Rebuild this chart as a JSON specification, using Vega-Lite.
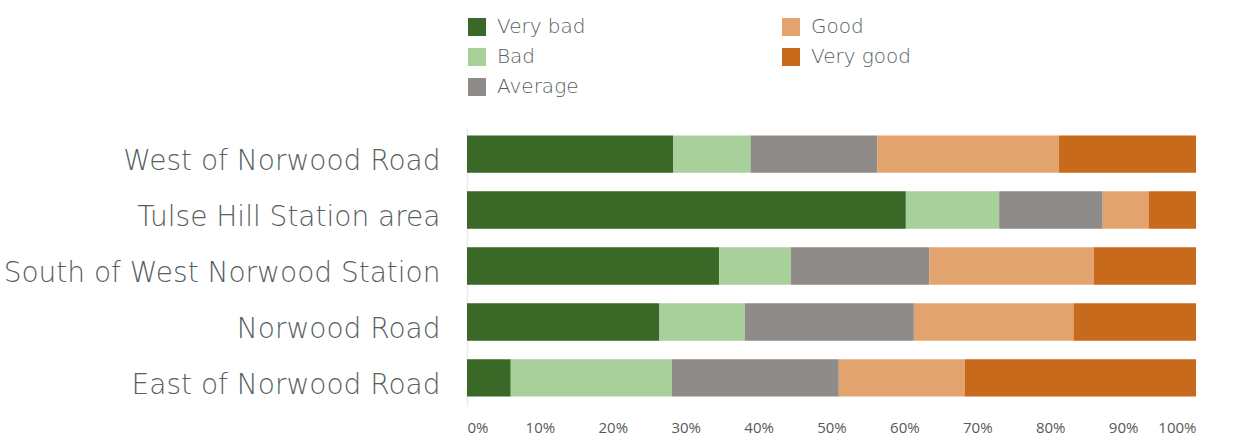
{
  "$schema": "https://vega.github.io/schema/vega-lite/v6.json",
  "autosize": "none",
  "width": 729,
  "height": 278,
  "padding": {"left": 467, "top": 127, "right": 37, "bottom": 30},
  "background": "white",
  "data": {
    "values": [
      {"area": "West of Norwood Road", "rating": "Very bad", "score": 1, "pct": 28.3},
      {"area": "West of Norwood Road", "rating": "Bad", "score": 2, "pct": 10.6},
      {"area": "West of Norwood Road", "rating": "Average", "score": 3, "pct": 17.4},
      {"area": "West of Norwood Road", "rating": "Good", "score": 4, "pct": 24.9},
      {"area": "West of Norwood Road", "rating": "Very good", "score": 5, "pct": 18.8},
      {"area": "Tulse Hill Station area", "rating": "Very bad", "score": 1, "pct": 60.2},
      {"area": "Tulse Hill Station area", "rating": "Bad", "score": 2, "pct": 12.8},
      {"area": "Tulse Hill Station area", "rating": "Average", "score": 3, "pct": 14.2},
      {"area": "Tulse Hill Station area", "rating": "Good", "score": 4, "pct": 6.3},
      {"area": "Tulse Hill Station area", "rating": "Very good", "score": 5, "pct": 6.5},
      {"area": "South of West Norwood Station", "rating": "Very bad", "score": 1, "pct": 34.6},
      {"area": "South of West Norwood Station", "rating": "Bad", "score": 2, "pct": 9.8},
      {"area": "South of West Norwood Station", "rating": "Average", "score": 3, "pct": 19.0},
      {"area": "South of West Norwood Station", "rating": "Good", "score": 4, "pct": 22.6},
      {"area": "South of West Norwood Station", "rating": "Very good", "score": 5, "pct": 14.0},
      {"area": "Norwood Road", "rating": "Very bad", "score": 1, "pct": 26.4},
      {"area": "Norwood Road", "rating": "Bad", "score": 2, "pct": 11.7},
      {"area": "Norwood Road", "rating": "Average", "score": 3, "pct": 23.2},
      {"area": "Norwood Road", "rating": "Good", "score": 4, "pct": 21.9},
      {"area": "Norwood Road", "rating": "Very good", "score": 5, "pct": 16.8},
      {"area": "East of Norwood Road", "rating": "Very bad", "score": 1, "pct": 6.0},
      {"area": "East of Norwood Road", "rating": "Bad", "score": 2, "pct": 22.1},
      {"area": "East of Norwood Road", "rating": "Average", "score": 3, "pct": 22.9},
      {"area": "East of Norwood Road", "rating": "Good", "score": 4, "pct": 17.3},
      {"area": "East of Norwood Road", "rating": "Very good", "score": 5, "pct": 31.7}
    ]
  },
  "mark": {"type": "bar"},
  "encoding": {
    "y": {
      "field": "area",
      "type": "nominal",
      "sort": ["West of Norwood Road", "Tulse Hill Station area", "South of West Norwood Station", "Norwood Road", "East of Norwood Road"],
      "scale": {"paddingInner": 0.33, "paddingOuter": 0.15},
      "axis": {
        "title": null,
        "ticks": false,
        "domain": true,
        "domainColor": "#ececec",
        "domainWidth": 1.5,
        "labelFont": "DejaVu Sans",
        "labelFontWeight": 200,
        "labelFontSize": 28,
        "labelColor": "#56615f",
        "labelPadding": 27,
        "labelOffset": 8,
        "labelLimit": 600
      }
    },
    "x": {
      "field": "pct",
      "type": "quantitative",
      "stack": "normalize",
      "scale": {"domain": [0, 1], "nice": false},
      "axis": {
        "title": null,
        "format": ".0%",
        "values": [0, 0.1, 0.2, 0.3, 0.4, 0.5, 0.6, 0.7, 0.8, 0.9, 1],
        "grid": false,
        "ticks": false,
        "domain": false,
        "labelFont": "Open Sans",
        "labelFontSize": 15,
        "labelColor": "#595959",
        "labelPadding": 15
      }
    },
    "order": {"field": "score", "type": "quantitative", "sort": "ascending"},
    "color": {
      "field": "rating",
      "type": "nominal",
      "sort": ["Very bad", "Bad", "Average", "Good", "Very good"],
      "scale": {
        "domain": ["Very bad", "Bad", "Average", "Good", "Very good"],
        "range": ["#3a6827", "#a8d09b", "#8f8b88", "#e3a36e", "#c86a1b"]
      },
      "legend": {
        "title": null,
        "orient": "none",
        "legendX": 0,
        "legendY": -110,
        "direction": "horizontal",
        "columns": 2,
        "values": ["Very bad", "Good", "Bad", "Very good", "Average"],
        "symbolType": "square",
        "symbolSize": 324,
        "symbolStrokeWidth": 0,
        "labelFont": "DejaVu Sans",
        "labelFontWeight": 200,
        "labelFontSize": 20,
        "labelColor": "#56615f",
        "labelOffset": 10,
        "rowPadding": 10,
        "columnPadding": 195,
        "padding": 0
      }
    }
  },
  "config": {"view": {"stroke": null}}
}
